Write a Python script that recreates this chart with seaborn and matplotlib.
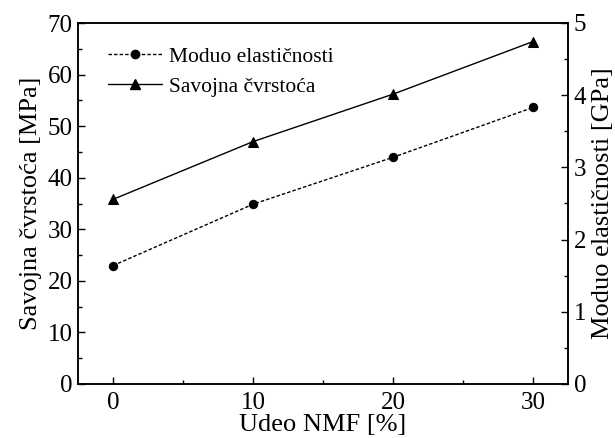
import matplotlib
matplotlib.use("Agg")
import matplotlib.pyplot as plt
from matplotlib.ticker import MultipleLocator
from matplotlib.lines import Line2D
import seaborn as sns
import pandas as pd

udeo = [0, 10, 20, 30]
savojna = [35.8, 47.0, 56.2, 66.4]
moduo = [1.64, 2.49, 3.14, 3.83]

sns.set_style("ticks")
plt.rcParams['font.family'] = ['Liberation Serif', 'DejaVu Serif']
plt.rcParams['text.color'] = 'black'
plt.rcParams['axes.labelcolor'] = 'black'
plt.rcParams['xtick.color'] = 'black'
plt.rcParams['ytick.color'] = 'black'

fig = plt.figure(figsize=(6.15, 4.38), dpi=100)
ax = fig.add_axes([78/615, 1-384/438, (568-78)/615, (384-23)/438])
ax2 = ax.twinx()

df = pd.DataFrame({"x": udeo, "s": savojna, "m": moduo})
sns.lineplot(data=df, x="x", y="s", ax=ax, color="black", marker="^", markersize=6.5,
             linewidth=1.0, markeredgecolor="black")
sns.lineplot(data=df, x="x", y="m", ax=ax2, color="black", marker="o", markersize=6,
             linewidth=1.0, linestyle=(0, (2.5, 1.5)), markeredgecolor="black")

ax.set_xlim(-2.5, 32.5)
ax.set_ylim(0, 70)
ax2.set_ylim(0, 5)
ax.xaxis.set_major_locator(MultipleLocator(10))
ax.xaxis.set_minor_locator(MultipleLocator(5))
ax.yaxis.set_major_locator(MultipleLocator(10))
ax.yaxis.set_minor_locator(MultipleLocator(5))
ax2.yaxis.set_major_locator(MultipleLocator(1))
ax2.yaxis.set_minor_locator(MultipleLocator(0.5))

fs = 18
for a in (ax, ax2):
    a.tick_params(which='major', direction='in', length=5, width=1, labelsize=fs,
                  colors='black', pad=4)
    a.tick_params(which='minor', direction='in', length=3, width=1)
    for sp in a.spines.values():
        sp.set_linewidth(1.1)
        sp.set_color('black')
ax.tick_params(top=False, right=False, which='both')
ax2.tick_params(left=False, which='both')
ax.tick_params(axis='x', pad=6)

ax.set_xlabel("Udeo NMF [%]", fontsize=19, labelpad=0, color='black')
ax.set_ylabel("Savojna čvrstoća [MPa]", fontsize=19, labelpad=4, color='black')
ax2.set_ylabel("Moduo elastičnosti [GPa]", fontsize=19, labelpad=4, color='black')

handles = [
    Line2D([], [], color='black', marker='o', markersize=6, linewidth=1.0, linestyle=(0, (2.5, 1.5))),
    Line2D([], [], color='black', marker='^', markersize=6.5, linewidth=1.0),
]
leg = ax.legend(handles, ["Moduo elastičnosti", "Savojna čvrstoća"], loc='upper left',
                bbox_to_anchor=(0.035, 0.97), frameon=False, fontsize=15.5, handlelength=2.5,
                handletextpad=0.35, labelspacing=0.45, borderaxespad=0.2)
for t in leg.get_texts():
    t.set_color('black')

fig.savefig("out.png", dpi=100)
